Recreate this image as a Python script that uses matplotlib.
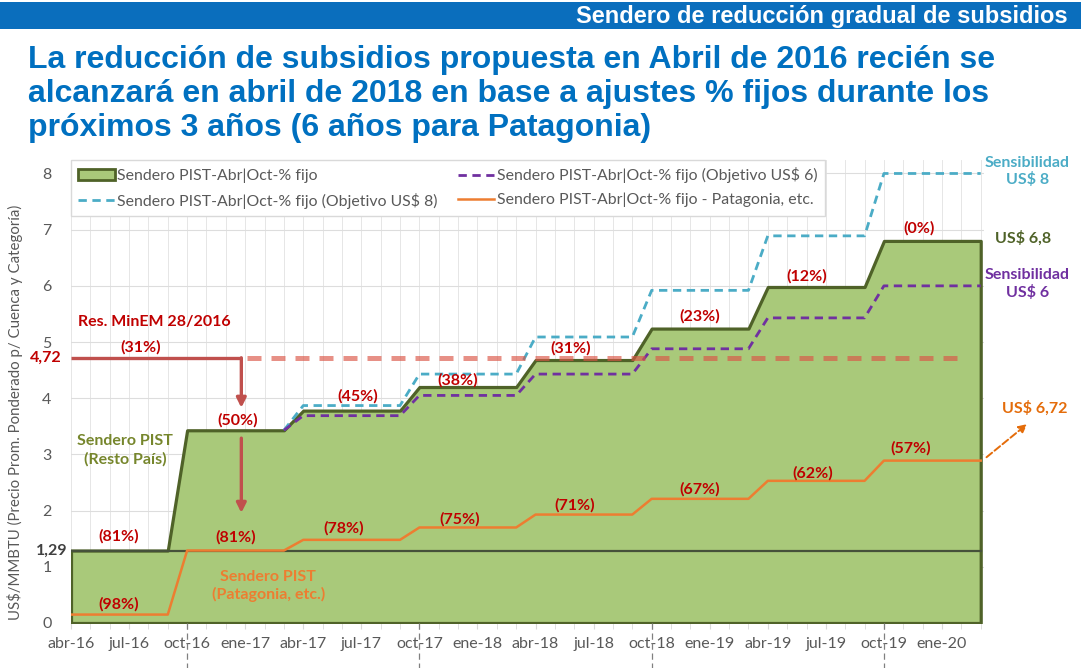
import numpy as np
import matplotlib
matplotlib.use("Agg")
import matplotlib.pyplot as plt
from matplotlib.patches import Patch, Rectangle
from matplotlib.lines import Line2D

plt.rcParams['font.family'] = ['Lato', 'DejaVu Sans']

# months from abr-16 (0) to mar-20 (47); values change every semester (abr / oct)
months = np.arange(48)
tick_labels = ['abr-16', 'jul-16', 'oct-16', 'ene-17', 'abr-17', 'jul-17', 'oct-17', 'ene-18',
               'abr-18', 'jul-18', 'oct-18', 'ene-19', 'abr-19', 'jul-19', 'oct-19', 'ene-20']

# semester levels (US$/MMBTU), 8 semesters of 6 months
pist_levels = [1.29, 3.43, 3.78, 4.20, 4.68, 5.24, 5.98, 6.80]
patagonia_levels = [0.15, 1.29, 1.48, 1.70, 1.93, 2.21, 2.53, 2.89]
# sensitivities, from abr-17 on (start from 3.43 in mar-17)
obj6_levels = [3.69, 4.05, 4.43, 4.88, 5.43, 6.00]
obj8_levels = [3.87, 4.43, 5.09, 5.92, 6.89, 8.00]
res_minem = 4.72
base_price = 1.29

pct_labels = ['(81%)', '(98%)', '(50%)', '(81%)', '(45%)', '(78%)', '(38%)', '(75%)',
              '(31%)', '(71%)', '(23%)', '(67%)', '(12%)', '(62%)', '(0%)', '(57%)']
pct_pos = [(2.45, 1.55), (2.45, 0.34), (8.6, 3.61), (8.5, 1.53), (14.8, 4.04), (14.1, 1.69),
           (20.0, 4.31), (20.1, 1.85), (25.8, 4.88), (26.0, 2.10), (32.5, 5.46), (32.5, 2.37),
           (38.0, 6.17), (38.3, 2.67), (43.8, 7.03), (43.4, 3.11)]

pist = np.repeat(pist_levels, 6)
patagonia = np.repeat(patagonia_levels, 6)
m_sens = months[11:]
obj6 = np.concatenate([[pist_levels[1]], np.repeat(obj6_levels, 6)])
obj8 = np.concatenate([[pist_levels[1]], np.repeat(obj8_levels, 6)])

GREEN_FILL = '#A9C97A'
GREEN_DARK = '#4F6228'
PURPLE = '#7030A0'
CYAN = '#4BACC6'
ORANGE = '#ED7D31'
RED = '#C00000'
RED_LINE = '#C0504D'
GRAY = '#595959'

fig = plt.figure(figsize=(10.81, 6.68), dpi=100)

# header band
fig.patches.append(Rectangle((0, 1 - 29 / 668), 1, 27 / 668, transform=fig.transFigure,
                             facecolor='#0A6EBD', edgecolor='none', zorder=0))
fig.text(1068 / 1081, 1 - 16 / 668, 'Sendero de reducción gradual de subsidios',
         ha='right', va='center', color='white', fontsize=17, fontweight='bold',
         family=['Liberation Sans'])

title_lines = ['La reducción de subsidios propuesta en Abril de 2016 recién se',
               'alcanzará en abril de 2018 en base a ajustes % fijos durante los',
               'próximos 3 años (6 años para Patagonia)']
for i, line in enumerate(title_lines):
    fig.text(28 / 1081, 1 - (60 + 34 * i) / 668, line, ha='left', va='center',
             color='#0070C0', fontsize=23, fontweight='bold', family=['Liberation Sans'])

ax = fig.add_axes([71 / 1081, 45 / 668, 913 / 1081, 463 / 668])
ax.set_xlim(0, 47.17)
ax.set_ylim(0, 8.24)

# grid
for m in months:
    ax.axvline(m, color='#E6E6E6', lw=0.7, zorder=0)
for v in range(1, 9):
    ax.axhline(v, color='#DDDDDD', lw=0.8, zorder=0)

# main area
ax.fill_between(months, 0, pist, facecolor=GREEN_FILL, edgecolor=GREEN_DARK, lw=2.3, zorder=2)
ax.plot([0, 47], [base_price, base_price], color='#46513A', lw=1.6, zorder=3)

ax.plot(m_sens, obj8, color=CYAN, lw=2, ls=(0, (3, 2)), zorder=3)
ax.plot(m_sens, obj6, color=PURPLE, lw=2, ls=(0, (3, 2)), zorder=3)
ax.plot(months, patagonia, color=ORANGE, lw=1.8, zorder=4)

# Res. MinEM reference
ax.plot([0, 8.8], [res_minem, res_minem], color=RED_LINE, lw=2.4, zorder=5, solid_capstyle='butt')
ax.plot([9.1, 45.8], [res_minem, res_minem], color='#DB5546', alpha=0.65, lw=3.6,
        ls=(0, (2.8, 2)), zorder=4)
ax.annotate('', xy=(8.8, 3.83), xytext=(8.8, res_minem),
            arrowprops=dict(arrowstyle='-|>', color=RED_LINE, lw=2.4, mutation_scale=14,
                            shrinkA=0, shrinkB=0), zorder=5)
ax.annotate('', xy=(8.8, 1.96), xytext=(8.8, 3.29),
            arrowprops=dict(arrowstyle='-|>', color=RED_LINE, lw=2.4, mutation_scale=14,
                            shrinkA=0, shrinkB=0), zorder=5)
ax.text(0.35, 5.36, 'Res. MinEM 28/2016', color=RED, fontsize=11.5, fontweight='bold',
        ha='left', va='center')
ax.text(3.6, 4.91, '(31%)', color=RED, fontsize=11.5, fontweight='bold', ha='center', va='center')

for lab, (x, y) in zip(pct_labels, pct_pos):
    ax.text(x, y, lab, color=RED, fontsize=11.5, fontweight='bold', ha='center', va='center',
            zorder=6)

ax.text(2.8, 3.08, 'Sendero PIST\n(Resto País)', color='#76862C', fontsize=11.5,
        fontweight='bold', ha='center', va='center', linespacing=1.35, zorder=6)
ax.text(10.2, 0.66, 'Sendero PIST\n(Patagonia, etc.)', color=ORANGE, fontsize=11.5,
        fontweight='bold', ha='center', va='center', linespacing=1.3, zorder=6)

# left value labels
ax.text(-0.5, res_minem, '4,72', color=RED, fontsize=11.5, fontweight='bold', ha='right',
        va='center', clip_on=False)
ax.text(-0.2, base_price, '1,29', color='#404040', fontsize=11.5, fontweight='bold', ha='right',
        va='center', clip_on=False)

# right side labels
ax.text(49.4, 8.04, 'Sensibilidad\nUS$ 8', color=CYAN, fontsize=11.5, fontweight='bold',
        ha='center', va='center', clip_on=False, linespacing=1.2)
ax.text(49.2, 6.85, 'US$ 6,8', color=GREEN_DARK, fontsize=11.5, fontweight='bold',
        ha='center', va='center', clip_on=False)
ax.text(49.4, 6.03, 'Sensibilidad\nUS$ 6', color=PURPLE, fontsize=11.5, fontweight='bold',
        ha='center', va='center', clip_on=False, linespacing=1.2)
ax.text(49.8, 3.83, 'US$ 6,72', color='#E46C0A', fontsize=11.5, fontweight='bold',
        ha='center', va='center', clip_on=False)
ax.annotate('', xy=(49.4, 3.54), xytext=(47.3, 2.95), annotation_clip=False,
            arrowprops=dict(arrowstyle='-|>', color='#E46C0A', lw=1.4, ls='--',
                            mutation_scale=12, shrinkA=0, shrinkB=0))

# year separators under the axis
for m in [6, 18, 30, 42]:
    ax.plot([m, m], [0, -0.1], transform=ax.get_xaxis_transform(), clip_on=False,
            color='#808080', lw=0.9, ls=(0, (5, 3)))

# axes styling
for s in ax.spines.values():
    s.set_visible(False)
ax.set_xticks(months[::3])
ax.set_xticklabels(tick_labels)
ax.set_xticks(months, minor=True)
ax.tick_params(axis='x', which='both', length=4, color='#D9D9D9', labelcolor=GRAY,
               labelsize=11.5, pad=6)
ax.set_yticks(range(0, 9))
ax.tick_params(axis='y', length=0, labelcolor=GRAY, labelsize=11.5, pad=14)
fig.text(15 / 1081, 1 - 412 / 668, 'US$/MMBTU (Precio Prom. Ponderado p/ Cuenca y Categoría)',
         rotation=90, ha='center', va='center', color=GRAY, fontsize=10.8)

handles = [Patch(facecolor=GREEN_FILL, edgecolor=GREEN_DARK, lw=2),
           Line2D([], [], color=CYAN, lw=2, ls=(0, (3, 2))),
           Line2D([], [], color=PURPLE, lw=2, ls=(0, (3, 2))),
           Line2D([], [], color=ORANGE, lw=1.8)]
labels = ['Sendero PIST-Abr|Oct-% fijo',
          'Sendero PIST-Abr|Oct-% fijo (Objetivo US$ 8)',
          'Sendero PIST-Abr|Oct-% fijo (Objetivo US$ 6)',
          'Sendero PIST-Abr|Oct-% fijo - Patagonia, etc.']
leg = ax.legend(handles, labels, ncol=2, loc='upper left', bbox_to_anchor=(0.0, 1.0),
                borderaxespad=0, fancybox=False, edgecolor='#D9D9D9', framealpha=1,
                fontsize=11.4, handlelength=2.3, handletextpad=0.15, columnspacing=1.3,
                labelspacing=0.6, borderpad=0.45)
for t in leg.get_texts():
    t.set_color(GRAY)
leg.set_zorder(10)

fig.savefig('out.png', dpi=100)
